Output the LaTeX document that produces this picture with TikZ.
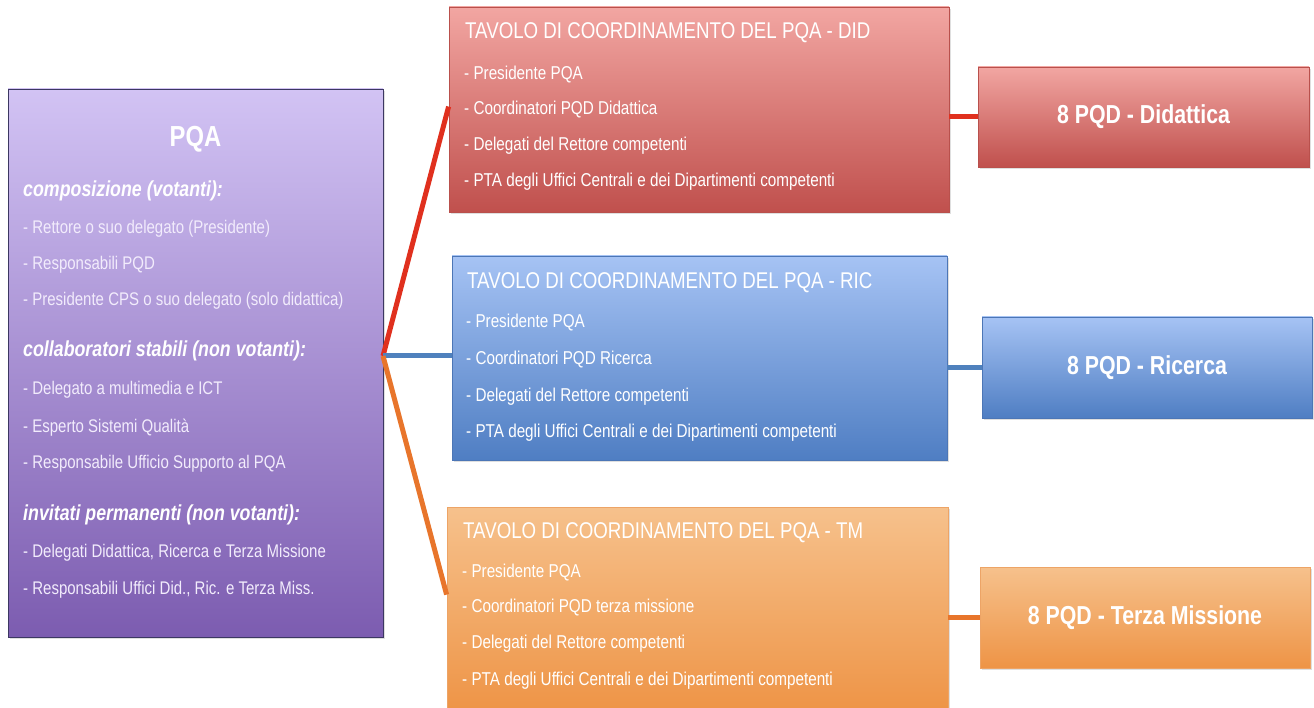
\documentclass[tikz,border=0pt]{standalone}
\usepackage{fontspec}
\setmainfont{Liberation Sans}[FakeStretch=0.82]
\usepackage{tikz}
\usetikzlibrary{calc,shadows}
\usepackage{xcolor}

\definecolor{pqatop}{HTML}{D2C3F4}
\definecolor{pqabot}{HTML}{7C5CB0}
\definecolor{pqaline}{HTML}{3C3762}
\definecolor{pqatext}{HTML}{F2ECFC}
\definecolor{didtop}{HTML}{F2A6A2}
\definecolor{didbot}{HTML}{C0504D}
\definecolor{didline}{HTML}{B9504C}
\definecolor{rictop}{HTML}{A6C3F4}
\definecolor{ricbot}{HTML}{4F7EC3}
\definecolor{ricline}{HTML}{4C76B6}
\definecolor{tmtop}{HTML}{F6C18C}
\definecolor{tmbot}{HTML}{EE9446}
\definecolor{tmline}{HTML}{EDA466}
\definecolor{didwire}{HTML}{E0301E}
\definecolor{ricwire}{HTML}{4F81BD}
\definecolor{tmwire}{HTML}{E8752B}

\begin{document}
\begin{tikzpicture}[x=1pt,y=-1pt]

        \tikzset{
            box/.style={draw, rectangle, inner sep=0pt, line width=0.8pt,
                drop shadow={opacity=0.25, shadow xshift=2pt, shadow yshift=-2pt}},
            box_pqa/.style={box, draw=pqaline, top color=pqatop, bottom color=pqabot,
                minimum width=375pt, minimum height=548pt},
            box_did/.style={box, draw=didline, top color=didtop, bottom color=didbot},
            box_ric/.style={box, draw=ricline, top color=rictop, bottom color=ricbot},
            box_tm/.style={box, draw=tmline, top color=tmtop, bottom color=tmbot},
            tavolo/.style={minimum width=500pt, minimum height=205pt},
            pqd/.style={minimum width=330pt, minimum height=100pt, text=white,
                font=\bfseries\fontsize{26}{29}\selectfont},
            txt/.style={anchor=base west, inner sep=0pt, text=white,
                font=\fontsize{18.6}{21}\selectfont},
            txt_pqa/.style={txt, text=pqatext, font=\fontsize{18.3}{21}\selectfont},
            head_pqa/.style={txt, font=\bfseries\itshape\fontsize{21.7}{24}\selectfont},
            head_tavolo/.style={txt, font=\fontsize{22.8}{25}\selectfont},
            connect/.style={-, line width=5pt}
        }

        \clip (0,0) rectangle (1314,708);
        \fill[white] (0,0) rectangle (1314,708);

        % boxes
        \node[box_pqa] (pqa) at (195.5, 363) {};
        \node[box_did, tavolo] (did) at (699, 109.5) {};
        \node[box_ric, tavolo, minimum width=495pt, minimum height=204pt] (ric) at (699.5, 358) {};
        \node[box_tm, tavolo, minimum width=501pt] (tm) at (697.5, 609.5) {};

        \node[box_did, pqd, minimum width=331pt] (pqddid) at (1143.5, 117) {8 PQD - Didattica};
        \node[box_ric, pqd, minimum height=101pt] (pqdric) at (1147, 367.5) {8 PQD - Ricerca};
        \node[box_tm, pqd, minimum height=101pt] (pqdtm) at (1145, 617.5) {8 PQD - Terza Missione};

        % connectors
        \coordinate (hub) at (383, 356);
        \draw[connect, didwire] (hub) -- ($(did.north west)+(0,100)$);
        \draw[connect, ricwire] (hub) -- (hub -| ric.west);
        \draw[connect, tmwire] (hub) -- ($(tm.north west)+(0,88)$);

        \draw[connect, didwire] (pqddid.west -| did.east) -- (pqddid.west);
        \draw[connect, ricwire] (pqdric.west -| ric.east) -- (pqdric.west);
        \draw[connect, tmwire] (pqdtm.west -| tm.east) -- (pqdtm.west);

        % PQA
        \node[txt, anchor=base, font=\bfseries\fontsize{29}{32}\selectfont] (pqaname) at (195.5, 147) {PQA};
        \node[head_pqa] (comp) at (23, 197) {composizione (votanti):};
        \node[txt_pqa] (comp1) at (23, 234) {- Rettore o suo delegato (Presidente)};
        \node[txt_pqa] (comp2) at (23, 270) {- Responsabili PQD};
        \node[txt_pqa] (comp3) at (23, 306) {- Presidente CPS o suo delegato (solo didattica)};
        \node[head_pqa] (coll) at (23, 357) {collaboratori stabili (non votanti):};
        \node[txt_pqa] (coll1) at (23, 395) {- Delegato a multimedia e ICT};
        \node[txt_pqa] (coll2) at (23, 432) {- Esperto Sistemi Qualità};
        \node[txt_pqa] (coll3) at (23, 468) {- Responsabile Ufficio Supporto al PQA};
        \node[head_pqa] (inv) at (23, 520) {invitati permanenti (non votanti):};
        \node[txt_pqa] (inv1) at (23, 557) {- Delegati Didattica, Ricerca e Terza Missione};
        \node[txt_pqa] (inv2) at (23, 594) {- Responsabili Uffici Did., Ric. e Terza Miss.};

        % tavoli
        \node[head_tavolo] (didtitle) at (465, 39) {TAVOLO DI COORDINAMENTO DEL PQA - DID};
        \node[txt] (did1) at (464, 80) {- Presidente PQA};
        \node[txt] (did2) at (464, 115) {- Coordinatori PQD Didattica};
        \node[txt] (did3) at (464, 151) {- Delegati del Rettore competenti};
        \node[txt] (did4) at (464, 187) {- PTA degli Uffici Centrali e dei Dipartimenti competenti};

        \node[head_tavolo] (rictitle) at (467, 289) {TAVOLO DI COORDINAMENTO DEL PQA - RIC};
        \node[txt] (ric1) at (466, 328) {- Presidente PQA};
        \node[txt] (ric2) at (466, 364) {- Coordinatori PQD Ricerca};
        \node[txt] (ric3) at (466, 401) {- Delegati del Rettore competenti};
        \node[txt] (ric4) at (466, 437) {- PTA degli Uffici Centrali e dei Dipartimenti competenti};

        \node[head_tavolo] (tmtitle) at (463, 538) {TAVOLO DI COORDINAMENTO DEL PQA - TM};
        \node[txt] (tm1) at (462, 577) {- Presidente PQA};
        \node[txt] (tm2) at (462, 612) {- Coordinatori PQD terza missione};
        \node[txt] (tm3) at (462, 648) {- Delegati del Rettore competenti};
        \node[txt] (tm4) at (462, 685) {- PTA degli Uffici Centrali e dei Dipartimenti competenti};

\end{tikzpicture}
\end{document}
